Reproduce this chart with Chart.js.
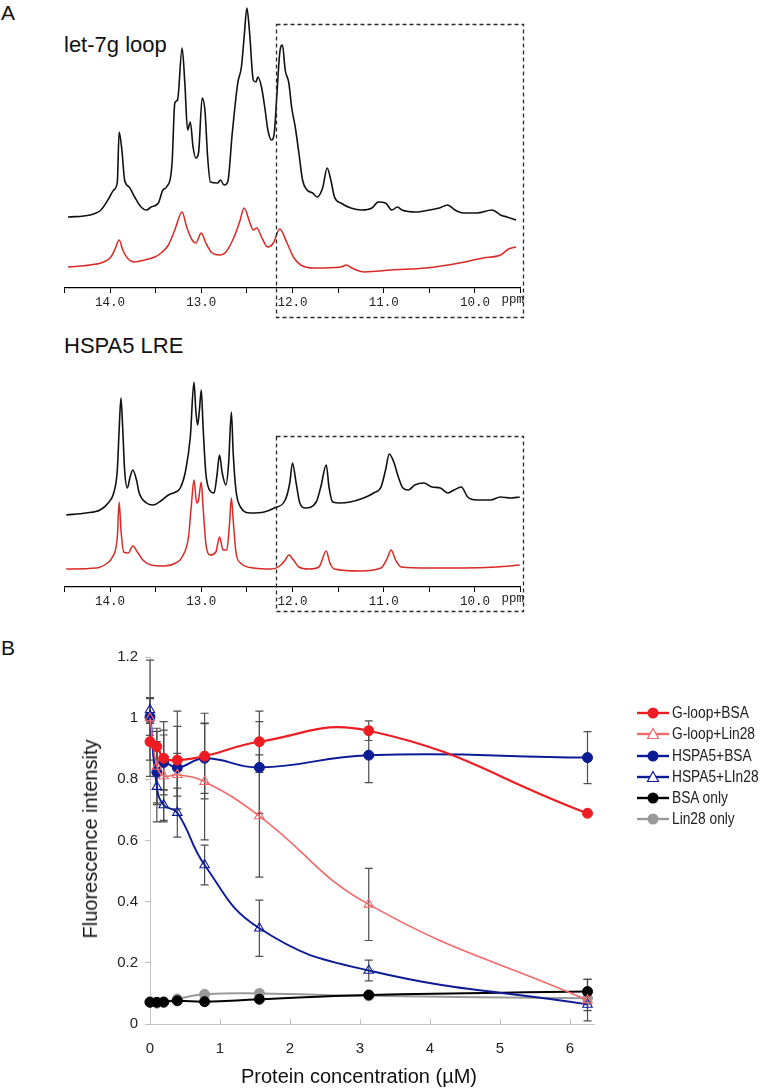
<!DOCTYPE html>
<html><head><meta charset="utf-8">
<script src="https://cdn.jsdelivr.net/npm/chart.js@4.4.1/dist/chart.umd.min.js"></script>
<style>
html,body{margin:0;padding:0;background:#fff;}
body{width:761px;height:1090px;position:relative;overflow:hidden;font-family:"Liberation Sans",Arial,Helvetica,sans-serif;color:#111;}
.abs{position:absolute;white-space:nowrap;}
canvas{position:absolute;}
.leg{position:absolute;left:637px;height:20px;width:130px;}
.leg svg{position:absolute;left:0;top:0;}
.leg span{position:absolute;left:35px;top:0;font-size:16px;line-height:20px;white-space:nowrap;transform:scaleX(0.86);transform-origin:0 50%;color:#222;}
</style></head><body>
<div class="abs" style="left:1px;top:2px;font-size:21px;line-height:21px;">A</div>
<div class="abs" style="left:64px;top:34px;font-size:22px;line-height:22px;">let-7g loop</div>
<div class="abs" style="left:64px;top:335px;font-size:22px;line-height:22px;">HSPA5 LRE</div>
<div class="abs" style="left:1px;top:637px;font-size:21px;line-height:21px;">B</div>

<canvas id="specTop" width="540" height="320" style="left:0;top:0;width:540px;height:320px;"></canvas>
<canvas id="specBottom" width="540" height="289" style="left:0;top:330px;width:540px;height:289px;"></canvas>
<canvas id="binding" width="761" height="450" style="left:0;top:640px;width:761px;height:450px;"></canvas>

<div class="abs" style="left:90px;top:839px;font-size:20px;line-height:20px;transform:translate(-50%,-50%) rotate(-90deg);">Fluorescence intensity</div>
<div class="abs" style="left:359px;top:1066px;font-size:20px;line-height:20px;transform:translateX(-50%);">Protein concentration (µM)</div>
<div id="legend"></div>

<script>
// ---------- Panel A: 1D imino proton spectra (ppm, intensity in arbitrary units) ----------
const let7gRnaPpm = [14.46,14.22,14.10,14.01,13.96,13.92,13.90,13.87,13.84,13.79,13.73,13.66,13.60,13.55,13.47,13.42,13.38,13.32,13.29,13.26,13.21,13.18,13.15,13.12,13.09,13.06,13.03,12.99,12.96,12.93,12.90,12.82,12.79,12.75,12.71,12.66,12.60,12.56,12.53,12.50,12.47,12.43,12.40,12.38,12.34,12.30,12.27,12.23,12.20,12.17,12.14,12.11,12.08,12.04,12.01,11.97,11.93,11.89,11.84,11.78,11.73,11.67,11.62,11.58,11.54,11.47,11.36,11.24,11.13,11.06,10.98,10.91,10.85,10.80,10.65,10.50,10.39,10.30,10.22,10.13,9.98,9.81,9.72,9.65,9.55];
const let7gRnaInt = [71,73,78,90,98,106,156,138,108,101,91,81,78,81,85,98,101,125,185,188,240,205,158,166,141,130,135,190,178,131,106,105,108,103,106,155,205,221,251,280,255,208,206,211,201,178,158,148,155,195,235,243,218,205,181,161,135,108,98,95,91,100,120,108,91,85,80,78,80,86,85,78,81,78,76,78,80,83,78,75,75,78,73,71,68];
const let7gLin28Ppm = [14.46,14.22,14.07,13.99,13.94,13.90,13.86,13.81,13.73,13.62,13.51,13.44,13.36,13.29,13.21,13.16,13.10,13.06,13.00,12.95,12.88,12.80,12.73,12.64,12.58,12.53,12.47,12.43,12.39,12.34,12.27,12.21,12.14,12.06,11.99,11.91,11.76,11.47,11.41,11.35,11.21,10.91,10.54,10.17,9.91,9.72,9.63,9.55];
const let7gLin28Int = [21,23,26,31,40,48,38,30,26,28,31,35,43,58,76,61,48,45,55,45,35,33,36,51,66,80,66,58,60,51,41,45,59,45,31,23,20,21,23,20,16,18,20,25,30,33,39,41];

const hspa5RnaPpm = [14.48,14.26,14.11,14.02,13.96,13.92,13.90,13.88,13.86,13.84,13.81,13.78,13.75,13.71,13.68,13.60,13.53,13.43,13.36,13.28,13.23,13.17,13.12,13.08,13.06,13.04,13.02,13.00,12.98,12.95,12.91,12.86,12.83,12.80,12.77,12.73,12.70,12.67,12.65,12.62,12.57,12.46,12.31,12.20,12.08,12.03,12.00,11.96,11.92,11.86,11.74,11.69,11.63,11.60,11.56,11.48,11.37,11.22,11.11,11.03,10.98,10.94,10.89,10.84,10.79,10.73,10.66,10.56,10.47,10.38,10.30,10.23,10.15,10.08,9.98,9.83,9.72,9.61,9.51];
const hspa5RnaInt = [72,74,77,84,94,117,157,189,157,117,99,110,117,107,94,84,82,87,92,95,99,117,150,205,177,162,177,197,160,114,97,94,110,132,114,102,124,175,134,97,80,74,75,79,87,104,124,104,84,79,85,100,122,100,85,84,85,89,94,100,117,133,125,110,99,97,102,104,100,99,94,97,100,90,87,87,90,89,90];
const hspa5Lin28Ppm = [14.48,14.15,14.03,13.98,13.92,13.90,13.88,13.85,13.80,13.75,13.70,13.64,13.55,13.40,13.28,13.21,13.14,13.11,13.08,13.05,13.03,13.00,12.98,12.95,12.90,12.84,12.80,12.76,12.72,12.69,12.67,12.65,12.62,12.57,12.42,12.23,12.14,12.08,12.04,11.99,11.93,11.82,11.71,11.63,11.59,11.54,11.26,11.03,10.96,10.92,10.87,10.81,10.51,10.13,9.76,9.51];
const hspa5Lin28Int = [18,19,24,29,50,85,57,35,34,41,35,27,22,21,24,30,50,80,107,84,87,105,80,44,32,35,50,37,37,64,89,67,35,24,19,18,21,27,32,27,20,18,20,36,24,18,16,19,29,37,27,20,19,19,20,22];

// dashed boxes (ppm limits, intensity-unit limits) and axis ranges
const ppmRange = [9.5, 14.5];
const boxPpm = [12.18, 9.47];
const topBoxInt = [264, -29];
const bottomBoxInt = [151, -24];

// ---------- Panel B: fluorescence vs protein concentration ----------
const concentrationsUM = [0, 0.098, 0.195, 0.39, 0.78, 1.5625, 3.125, 6.25];
const gloopBsa      = [0.923, 0.907, 0.869, 0.863, 0.876, 0.923, 0.959, 0.689];
const gloopBsaErr   = [0.06, 0.05, 0.12, 0.16, 0.14, 0.10, 0.032, 0];
const gloopLin28    = [1.000, 0.842, 0.811, 0.815, 0.792, 0.680, 0.391, 0.078];
const gloopLin28Err = [0.19, 0.125, 0.15, 0.07, 0.19, 0.20, 0.118, 0.068];
const hspa5Bsa      = [1.004, 0.823, 0.855, 0.838, 0.869, 0.839, 0.879, 0.871];
const hspa5BsaErr   = [0.06, 0.10, 0.09, 0.135, 0.115, 0.15, 0.09, 0.085];
const hspa5Lin28    = [1.027, 0.776, 0.716, 0.691, 0.520, 0.313, 0.175, 0.064];
const hspa5Lin28Err = [0.04, 0.115, 0.05, 0.08, 0.065, 0.092, 0.034, 0.02];
const bsaOnly       = [0.071, 0.071, 0.072, 0.076, 0.073, 0.081, 0.095, 0.106];
const bsaOnlyErr    = [0.004, 0.004, 0.004, 0.004, 0.004, 0.006, 0.006, 0.04];
const lin28Only     = [0.073, 0.068, 0.070, 0.082, 0.097, 0.100, 0.092, 0.084];
const lin28OnlyErr  = [0.004, 0.004, 0.004, 0.005, 0.006, 0.01, 0.006, 0.01];
const seriesLabels = ['G-loop+BSA','G-loop+Lin28','HSPA5+BSA','HSPA5+LIn28','BSA only','Lin28 only'];
const yTicks = [0, 0.2, 0.4, 0.6, 0.8, 1, 1.2];
const xTicks = [0, 1, 2, 3, 4, 5, 6];

const SANS = '"Liberation Sans", Arial, Helvetica, sans-serif';
const MONO = '"Liberation Mono", "DejaVu Sans Mono", monospace';

function zip(xs, ys){ return xs.map((x,i)=>({x:x, y:ys[i]})); }

const spectrumDecor = {
  id:'spectrumDecor',
  afterDraw(chart, args, opts){
    const {ctx} = chart; const xs = chart.scales.x, ys = chart.scales.y;
    ctx.save();
    ctx.strokeStyle = '#2a2a2a'; ctx.lineWidth = 1.3; ctx.setLineDash([4,3]);
    const x1 = Math.round(xs.getPixelForValue(opts.boxPpm[0]))+0.5, x2 = Math.round(xs.getPixelForValue(opts.boxPpm[1]))+0.5;
    const y1 = Math.round(ys.getPixelForValue(opts.boxInt[0]))+0.5, y2 = Math.round(ys.getPixelForValue(opts.boxInt[1]))+0.5;
    ctx.strokeRect(x1, y1, x2-x1, y2-y1);
    ctx.setLineDash([]);
    ctx.fillStyle = '#222'; ctx.font = '12.5px ' + MONO; ctx.textAlign='left'; ctx.textBaseline='middle';
    ctx.fillText('ppm', chart.chartArea.right - 19, chart.chartArea.bottom + 12);
    ctx.restore();
  }
};

function spectrumChart(id, yMax, blackPpm, blackInt, redPpm, redInt, boxInt){
  return new Chart(document.getElementById(id), {
    type:'line',
    data:{datasets:[
      {data:zip(redPpm, redInt), borderColor:'#d82a25', borderWidth:1.5, pointRadius:0, cubicInterpolationMode:'monotone'},
      {data:zip(blackPpm, blackInt), borderColor:'#111', borderWidth:1.6, pointRadius:0, cubicInterpolationMode:'monotone'}
    ]},
    options:{
      responsive:false, animation:false, events:[],
      layout:{padding:{left:64.4, right:19.4, top:0, bottom:0}},
      plugins:{legend:{display:false}, tooltip:{enabled:false}, spectrumDecor:{boxPpm:boxPpm, boxInt:boxInt}},
      scales:{
        x:{type:'linear', reverse:true, min:ppmRange[0], max:ppmRange[1],
           afterFit:(s)=>{ s.height = 32; },
           border:{color:'#000', width:1.3},
           grid:{drawOnChartArea:false, drawTicks:true, tickLength:5, color:'#000', lineWidth:1},
           ticks:{stepSize:0.5, autoSkip:false, maxRotation:0, padding:2, color:'#222',
                  font:{family:MONO, size:12.5},
                  callback:(v)=> Math.abs(v-Math.round(v))<1e-6 ? Number(v).toFixed(1) : ''}},
        y:{display:false, min:0, max:yMax}
      }
    },
    plugins:[spectrumDecor]
  });
}

spectrumChart('specTop', 288, let7gRnaPpm, let7gRnaInt, let7gLin28Ppm, let7gLin28Int, topBoxInt);
spectrumChart('specBottom', 257, hspa5RnaPpm, hspa5RnaInt, hspa5Lin28Ppm, hspa5Lin28Int, bottomBoxInt);

// ---------- Panel B chart ----------
const RED = '#ee1d23', PINK = '#f2686a', NAVY = '#0c1c95', GRAY = '#9a9a9a';
const styles = [
  {c:RED, w:2.2, tri:false},
  {c:PINK, w:1.6, tri:true},
  {c:NAVY, w:2.0, tri:false},
  {c:NAVY, w:1.9, tri:true},
  {c:'#000', w:2.0, tri:false},
  {c:GRAY, w:2.0, tri:false}
];
const values = [gloopBsa, gloopLin28, hspa5Bsa, hspa5Lin28, bsaOnly, lin28Only];
const errs = [gloopBsaErr, gloopLin28Err, hspa5BsaErr, hspa5Lin28Err, bsaOnlyErr, lin28OnlyErr];

const errorBars = {
  id:'errorBars',
  beforeDatasetsDraw(chart){
    const {ctx} = chart; const xs = chart.scales.x, ys = chart.scales.y;
    ctx.save(); ctx.strokeStyle = '#4d4d4d'; ctx.lineWidth = 1.2;
    chart.data.datasets.forEach((ds, k)=>{
      const e = errs[k];
      ds.data.forEach((p,i)=>{
        if(!e[i]) return;
        const px = xs.getPixelForValue(p.x);
        const a = ys.getPixelForValue(p.y + e[i]), b = ys.getPixelForValue(p.y - e[i]);
        ctx.beginPath();
        ctx.moveTo(px, a); ctx.lineTo(px, b);
        ctx.moveTo(px-4, a); ctx.lineTo(px+4, a);
        ctx.moveTo(px-4, b); ctx.lineTo(px+4, b);
        ctx.stroke();
      });
    });
    ctx.restore();
  },
  afterDraw(chart){
    const {ctx} = chart; const xs = chart.scales.x; const bottom = chart.chartArea.bottom;
    ctx.save(); ctx.strokeStyle = '#c2c2c2'; ctx.lineWidth = 1;
    xTicks.forEach(v=>{ if(v===0) return; const px = Math.round(xs.getPixelForValue(v))+0.5;
      ctx.beginPath(); ctx.moveTo(px, bottom); ctx.lineTo(px, bottom-5); ctx.stroke(); });
    ctx.restore();
  }
};

new Chart(document.getElementById('binding'), {
  type:'line',
  data:{datasets: values.map((v,k)=>({
    label: seriesLabels[k],
    data: zip(concentrationsUM, v),
    borderColor: styles[k].c, borderWidth: styles[k].w,
    tension: 0.45, clip: false,
    pointStyle: styles[k].tri ? 'triangle' : 'circle',
    pointRadius: styles[k].tri ? 5.5 : 5,
    pointBorderWidth: styles[k].tri ? 1.1 : 1,
    pointBorderColor: styles[k].c,
    pointBackgroundColor: styles[k].tri ? 'rgba(255,255,255,0)' : styles[k].c
  }))},
  options:{
    responsive:false, animation:false, events:[],
    layout:{padding:{left:0, right:166.5, top:17, bottom:0}},
    plugins:{legend:{display:false}, tooltip:{enabled:false}},
    scales:{
      x:{type:'linear', min:0, max:6.35,
         afterFit:(s)=>{ s.height = 66; },
         border:{color:'#c4c4c4', width:1},
         grid:{drawOnChartArea:false, drawTicks:false, color:'#c4c4c4'},
         afterBuildTicks:(s)=>{ s.ticks = xTicks.map(v=>({value:v})); },
         ticks:{padding:16, color:'#222', font:{family:SANS, size:15}, maxRotation:0, autoSkip:false}},
      y:{min:0, max:1.2,
         afterFit:(s)=>{ s.width = 150; },
         border:{color:'#c4c4c4', width:1},
         grid:{drawOnChartArea:false, drawTicks:true, tickLength:5, color:'#bdbdbd'},
         afterBuildTicks:(s)=>{ s.ticks = yTicks.map(v=>({value:v})); },
         ticks:{padding:7, color:'#222', font:{family:SANS, size:15},
                callback:(v)=> String(Math.round(v*10)/10)}}
    }
  },
  plugins:[errorBars]
});

// ---------- legend (HTML) ----------
const legendY = [713, 734, 756, 777, 798, 819];
const legendEl = document.getElementById('legend');
seriesLabels.forEach((lab, k)=>{
  const s = styles[k];
  const marker = s.tri
    ? `<polygon points="16,4.5 21.5,14.5 10.5,14.5" fill="#fff" stroke="${s.c}" stroke-width="1.2"/>`
    : `<circle cx="16" cy="10" r="5.5" fill="${s.c}"/>`;
  const d = document.createElement('div');
  d.className = 'leg'; d.style.top = (legendY[k]-10) + 'px';
  d.innerHTML = `<svg width="32" height="20"><line x1="0" y1="10" x2="32" y2="10" stroke="${s.c}" stroke-width="2.4"/>${marker}</svg><span>${lab}</span>`;
  legendEl.appendChild(d);
});
</script>
</body></html>
